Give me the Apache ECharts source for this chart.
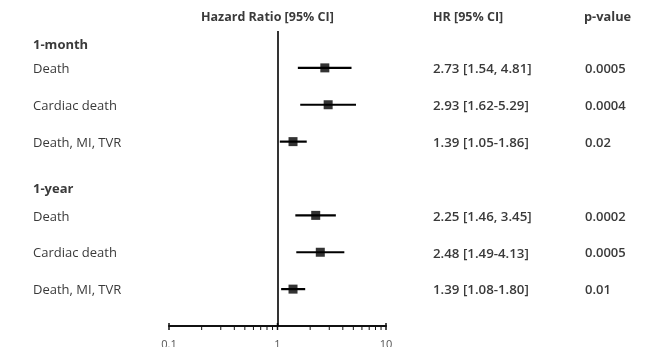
<!DOCTYPE html>
<html>
<head>
<meta charset="utf-8">
<script src="https://cdn.jsdelivr.net/npm/echarts@6/dist/echarts.min.js"></script>
<style>
  html, body { margin: 0; padding: 0; background: #fff; }
  #chart { width: 654px; height: 347px; }
</style>
</head>
<body>
<div id="chart"></div>
<script>
// forest plot data
const outcomes = ["Death", "Cardiac death", "Death, MI, TVR", "Death", "Cardiac death", "Death, MI, TVR"];
const outcomeRows = [1, 2, 3, 5, 6, 7];
const hr = [2.73, 2.93, 1.39, 2.25, 2.48, 1.39];
const ciLow = [1.54, 1.62, 1.05, 1.46, 1.49, 1.08];
const ciHigh = [4.81, 5.29, 1.86, 3.45, 4.13, 1.80];
const hrText = ["2.73 [1.54, 4.81]", "2.93 [1.62-5.29]", "1.39 [1.05-1.86]",
                "2.25 [1.46, 3.45]", "2.48 [1.49-4.13]", "1.39 [1.08-1.80]"];
const pValues = ["0.0005", "0.0004", "0.02", "0.0002", "0.0005", "0.01"];
const groups = ["1-month", "1-year"];
const groupRows = [0.36, 4.24];
const minorTicks = [0.2, 0.3, 0.4, 0.5, 0.6, 0.7, 0.8, 0.9, 2, 3, 4, 5, 6, 7, 8, 9];
const majorTicks = [0.1, 1, 10];

const FONT = '"Open Sans", sans-serif';
const TEXT = "#3a3a3a";

const chart = echarts.init(document.getElementById("chart"));

// text column drawn at a fixed x, y taken from the row scale
function textColumn(x, texts, rows, weight, size) {
  return {
    type: "custom",
    silent: true,
    clip: false,
    data: rows.map((r) => [1, r]),
    renderItem: (params, api) => {
      const y = api.coord([1, api.value(1)])[1] + 1.5;
      return {
        type: "text",
        style: {
          text: texts[params.dataIndex],
          x: x,
          y: y,
          fill: TEXT,
          font: weight + " " + size + "px " + FONT,
          align: "left",
          verticalAlign: "middle",
        },
      };
    },
  };
}

const option = {
  animation: false,
  grid: { left: 169, right: 268, top: 31, bottom: 21, containLabel: false, outerBoundsMode: "none" },
  xAxis: {
    type: "log",
    logBase: 10,
    min: 0.1,
    max: 10,
    axisLine: { onZero: false, lineStyle: { color: "#111", width: 2 } },
    axisTick: { show: false },
    splitLine: { show: false },
    axisLabel: { margin: 13, fontFamily: FONT, fontSize: 11, color: "#555" },
  },
  yAxis: { type: "value", inverse: true, min: 0, max: 8, show: false },
  graphic: [
    { type: "text", left: 201, top: 11, style: { text: "Hazard Ratio [95% CI]", fill: TEXT, font: "bold 12.5px " + FONT } },
    { type: "text", left: 433, top: 11, style: { text: "HR [95% CI]", fill: TEXT, font: "bold 12.5px " + FONT } },
    { type: "text", left: 584, top: 11, style: { text: "p-value", fill: TEXT, font: "bold 12.8px " + FONT } },
  ],
  series: [
    {
      // confidence intervals
      type: "custom",
      silent: true,
      data: outcomeRows.map((r, i) => [ciLow[i], ciHigh[i], r]),
      renderItem: (params, api) => {
        const a = api.coord([api.value(0), api.value(2)]);
        const b = api.coord([api.value(1), api.value(2)]);
        return {
          type: "line",
          shape: { x1: a[0], y1: a[1], x2: b[0], y2: b[1] },
          style: { stroke: "#000", lineWidth: 2.2 },
        };
      },
    },
    {
      // hazard ratio squares + line of no effect
      type: "scatter",
      symbol: "rect",
      symbolSize: 9,
      itemStyle: { color: "#000" },
      silent: true,
      data: outcomeRows.map((r, i) => [hr[i], r]),
      markLine: {
        silent: true,
        symbol: "none",
        label: { show: false },
        lineStyle: { color: "#000", width: 1.6, type: "solid" },
        data: [{ xAxis: 1 }],
      },
    },
    {
      // log axis ticks
      type: "custom",
      silent: true,
      clip: false,
      data: majorTicks.map((v) => [v, 1]).concat(minorTicks.map((v) => [v, 0])),
      renderItem: (params, api) => {
        const p = api.coord([api.value(0), 8]);
        const major = api.value(1) === 1;
        return {
          type: "line",
          shape: { x1: p[0], y1: p[1] - (major ? 3 : 0), x2: p[0], y2: p[1] + 4 },
          style: { stroke: "#111", lineWidth: major ? 1.5 : 1 },
        };
      },
    },
    textColumn(33, groups, groupRows, "bold", 13),
    textColumn(33, outcomes, outcomeRows, "normal", 13),
    textColumn(433, hrText, outcomeRows, "600", 13.3),
    textColumn(585, pValues, outcomeRows, "600", 13),
  ],
};

chart.setOption(option);
</script>
</body>
</html>
